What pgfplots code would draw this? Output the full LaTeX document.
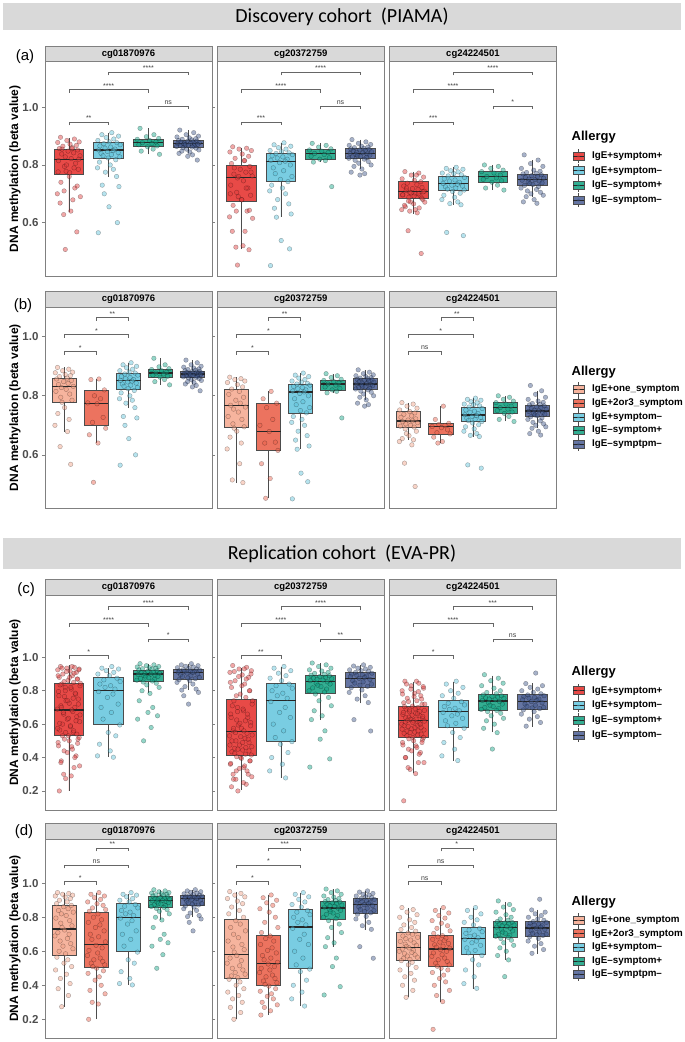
\documentclass[border=0pt]{standalone}
\usepackage{fontspec}
\setmainfont{Liberation Sans}
\newfontfamily\calfont{Carlito}
\usepackage{pgfplots}
\usepackage{pgfplotstable}
\pgfplotsset{compat=1.18}
\usepgfplotslibrary{statistics}

\definecolor{bR}{HTML}{E84A47}
\definecolor{bC}{HTML}{EC735F}
\definecolor{bP}{HTML}{F6B49E}
\definecolor{bB}{HTML}{79CDE2}
\definecolor{bG}{HTML}{33AE92}
\definecolor{bN}{HTML}{6575A3}
\definecolor{pR}{HTML}{E03C3C}
\definecolor{pC}{HTML}{E8604B}
\definecolor{pP}{HTML}{F0A084}
\definecolor{pB}{HTML}{5DC2DA}
\definecolor{pG}{HTML}{10A385}
\definecolor{pN}{HTML}{3C5488}
\definecolor{frame}{HTML}{808080}
\definecolor{stripc}{HTML}{D9D9D9}
\definecolor{tickc}{HTML}{4D4D4D}

% PIAMA, cg01870976 (A), cg20372759 (B), cg24224501 (C); columns: jitter, beta value
\pgfplotstableread[row sep=\\]{j y\\-0.21 0.896\\0.14 0.89\\-0.05 0.885\\0.26 0.88\\-0.28 0.878\\0.03 0.872\\0.19 0.868\\-0.15 0.865\\0.09 0.86\\-0.24 0.857\\0.22 0.852\\-0.02 0.848\\0.12 0.842\\-0.18 0.838\\0.28 0.832\\-0.09 0.828\\0.06 0.822\\-0.26 0.815\\0.17 0.806\\-0.11 0.795\\0.24 0.785\\-0.07 0.778\\0.01 0.76\\-0.20 0.74\\0.15 0.72\\-0.29 0.70\\0.10 0.679\\-0.13 0.628\\0.20 0.568\\}\PoneA
\pgfplotstableread[row sep=\\]{j y\\0.08 0.857\\-0.17 0.855\\0.25 0.82\\-0.06 0.80\\0.13 0.79\\-0.27 0.776\\0.02 0.773\\0.21 0.727\\-0.12 0.71\\0.29 0.69\\-0.22 0.668\\0.05 0.64\\-0.09 0.507\\}\PtwoA
\pgfplotstableread[row sep=\\]{j y\\0.08 0.912\\-0.17 0.905\\0.25 0.90\\-0.06 0.895\\0.13 0.89\\-0.27 0.885\\0.02 0.88\\0.21 0.877\\-0.12 0.874\\0.29 0.87\\-0.22 0.866\\0.05 0.862\\-0.09 0.858\\0.16 0.855\\-0.25 0.852\\0.11 0.85\\-0.03 0.847\\0.24 0.843\\-0.19 0.84\\0.07 0.836\\-0.14 0.832\\0.28 0.828\\-0.01 0.824\\0.18 0.818\\-0.23 0.81\\0.04 0.80\\-0.28 0.79\\0.12 0.785\\-0.08 0.775\\0.20 0.76\\-0.16 0.73\\0.26 0.725\\-0.11 0.70\\0.01 0.655\\0.22 0.60\\-0.26 0.565\\}\PlbA
\pgfplotstableread[row sep=\\]{j y\\-0.21 0.927\\0.14 0.905\\-0.05 0.898\\0.26 0.892\\-0.28 0.889\\0.03 0.885\\0.19 0.88\\-0.15 0.877\\0.09 0.874\\-0.24 0.87\\0.22 0.866\\-0.02 0.863\\0.12 0.855\\-0.18 0.848\\0.28 0.837\\}\PgrA
\pgfplotstableread[row sep=\\]{j y\\-0.21 0.921\\0.14 0.912\\-0.05 0.905\\0.26 0.90\\-0.28 0.897\\0.03 0.894\\0.19 0.891\\-0.15 0.889\\0.09 0.887\\-0.24 0.885\\0.22 0.883\\-0.02 0.882\\0.12 0.88\\-0.18 0.879\\0.28 0.877\\-0.09 0.876\\0.06 0.875\\-0.26 0.874\\0.17 0.873\\-0.11 0.872\\0.24 0.871\\-0.07 0.87\\0.01 0.869\\-0.20 0.867\\0.15 0.866\\-0.29 0.864\\0.10 0.862\\-0.13 0.86\\0.20 0.858\\-0.04 0.855\\0.27 0.852\\-0.16 0.848\\0.04 0.845\\-0.23 0.84\\0.11 0.835\\-0.01 0.83\\0.23 0.817\\}\PnvA
\pgfplotstableread[row sep=\\]{j y\\-0.21 0.863\\0.14 0.858\\-0.05 0.855\\0.26 0.85\\-0.28 0.845\\0.03 0.838\\0.19 0.83\\-0.15 0.823\\0.09 0.815\\-0.24 0.805\\0.22 0.795\\-0.02 0.785\\0.12 0.775\\-0.18 0.768\\0.28 0.762\\-0.09 0.755\\0.06 0.745\\-0.26 0.73\\0.17 0.72\\-0.11 0.705\\0.24 0.695\\-0.07 0.69\\0.01 0.68\\-0.20 0.66\\0.15 0.64\\-0.29 0.62\\0.10 0.57\\-0.13 0.515\\0.20 0.506\\}\PoneB
\pgfplotstableread[row sep=\\]{j y\\0.08 0.815\\-0.17 0.79\\0.25 0.775\\-0.06 0.76\\0.13 0.72\\-0.27 0.70\\0.02 0.679\\0.21 0.643\\-0.12 0.64\\0.29 0.615\\-0.22 0.57\\0.05 0.52\\-0.09 0.453\\}\PtwoB
\pgfplotstableread[row sep=\\]{j y\\0.08 0.877\\-0.17 0.87\\0.25 0.865\\-0.06 0.86\\0.13 0.855\\-0.27 0.85\\0.02 0.846\\0.21 0.842\\-0.12 0.84\\0.29 0.836\\-0.22 0.832\\0.05 0.828\\-0.09 0.824\\0.16 0.82\\-0.25 0.816\\0.11 0.813\\-0.03 0.808\\0.24 0.80\\-0.19 0.79\\0.07 0.78\\-0.14 0.77\\0.28 0.76\\-0.01 0.75\\0.18 0.742\\-0.23 0.73\\0.04 0.72\\-0.28 0.71\\0.12 0.70\\-0.08 0.68\\0.20 0.665\\-0.16 0.65\\0.26 0.63\\-0.11 0.619\\0.01 0.538\\0.22 0.509\\-0.26 0.451\\}\PlbB
\pgfplotstableread[row sep=\\]{j y\\-0.21 0.875\\0.14 0.868\\-0.05 0.862\\0.26 0.856\\-0.28 0.852\\0.03 0.848\\0.19 0.843\\-0.15 0.84\\0.09 0.836\\-0.24 0.83\\0.22 0.825\\-0.02 0.82\\0.12 0.815\\-0.18 0.81\\0.28 0.725\\}\PgrB
\pgfplotstableread[row sep=\\]{j y\\-0.21 0.888\\0.14 0.88\\-0.05 0.875\\0.26 0.871\\-0.28 0.868\\0.03 0.865\\0.19 0.862\\-0.15 0.86\\0.09 0.858\\-0.24 0.856\\0.22 0.854\\-0.02 0.852\\0.12 0.85\\-0.18 0.848\\0.28 0.846\\-0.09 0.844\\0.06 0.842\\-0.26 0.84\\0.17 0.838\\-0.11 0.836\\0.24 0.834\\-0.07 0.832\\0.01 0.83\\-0.20 0.828\\0.15 0.826\\-0.29 0.823\\0.10 0.82\\-0.13 0.816\\0.20 0.812\\-0.04 0.806\\0.27 0.80\\-0.16 0.795\\0.04 0.786\\-0.23 0.775\\0.11 0.77\\-0.01 0.765\\}\PnvB
\pgfplotstableread[row sep=\\]{j y\\-0.21 0.777\\0.14 0.772\\-0.05 0.765\\0.26 0.758\\-0.28 0.752\\0.03 0.747\\0.19 0.742\\-0.15 0.737\\0.09 0.732\\-0.24 0.727\\0.22 0.722\\-0.02 0.718\\0.12 0.715\\-0.18 0.712\\0.28 0.709\\-0.09 0.705\\0.06 0.70\\-0.26 0.697\\0.17 0.694\\-0.11 0.688\\0.24 0.68\\-0.07 0.672\\0.01 0.665\\-0.20 0.655\\0.15 0.651\\-0.29 0.645\\0.10 0.634\\-0.13 0.572\\0.20 0.493\\}\PoneC
\pgfplotstableread[row sep=\\]{j y\\0.08 0.765\\-0.17 0.72\\0.25 0.707\\-0.06 0.703\\0.13 0.70\\-0.27 0.696\\0.02 0.692\\0.21 0.685\\-0.12 0.675\\0.29 0.671\\-0.22 0.66\\0.05 0.645\\-0.09 0.64\\}\PtwoC
\pgfplotstableread[row sep=\\]{j y\\0.08 0.792\\-0.17 0.788\\0.25 0.785\\-0.06 0.78\\0.13 0.776\\-0.27 0.772\\0.02 0.77\\0.21 0.766\\-0.12 0.762\\0.29 0.757\\-0.22 0.752\\0.05 0.748\\-0.09 0.744\\0.16 0.74\\-0.25 0.736\\0.11 0.733\\-0.03 0.73\\0.24 0.727\\-0.19 0.724\\0.07 0.72\\-0.14 0.716\\0.28 0.713\\-0.01 0.708\\0.18 0.702\\-0.23 0.695\\0.04 0.688\\-0.28 0.68\\0.12 0.672\\-0.08 0.666\\0.20 0.662\\-0.16 0.566\\0.26 0.555\\}\PlbC
\pgfplotstableread[row sep=\\]{j y\\-0.21 0.80\\0.14 0.795\\-0.05 0.788\\0.26 0.782\\-0.28 0.777\\0.03 0.772\\0.19 0.765\\-0.15 0.76\\0.09 0.755\\-0.24 0.75\\0.22 0.745\\-0.02 0.74\\0.12 0.73\\-0.18 0.72\\0.28 0.713\\}\PgrC
\pgfplotstableread[row sep=\\]{j y\\-0.21 0.835\\0.14 0.817\\-0.05 0.805\\0.26 0.795\\-0.28 0.788\\0.03 0.782\\0.19 0.778\\-0.15 0.774\\0.09 0.771\\-0.24 0.769\\0.22 0.766\\-0.02 0.763\\0.12 0.76\\-0.18 0.757\\0.28 0.754\\-0.09 0.751\\0.06 0.749\\-0.26 0.747\\0.17 0.744\\-0.11 0.741\\0.24 0.738\\-0.07 0.735\\0.01 0.732\\-0.20 0.729\\0.15 0.725\\-0.29 0.72\\0.10 0.715\\-0.13 0.71\\0.20 0.705\\-0.04 0.70\\0.27 0.695\\-0.16 0.69\\0.04 0.68\\-0.23 0.672\\0.11 0.667\\}\PnvC

% EVA-PR
\pgfplotstableread[row sep=\\]{j y\\-0.21 0.945\\0.14 0.94\\-0.05 0.935\\0.26 0.93\\-0.28 0.925\\0.03 0.918\\0.19 0.91\\-0.15 0.90\\0.09 0.89\\-0.24 0.88\\0.22 0.87\\-0.02 0.862\\0.12 0.85\\-0.18 0.84\\0.28 0.83\\-0.09 0.82\\0.06 0.81\\-0.26 0.795\\0.17 0.78\\-0.11 0.765\\0.24 0.75\\-0.07 0.74\\0.01 0.725\\-0.20 0.71\\0.15 0.70\\-0.29 0.69\\0.10 0.675\\-0.13 0.66\\0.20 0.645\\-0.04 0.63\\0.27 0.615\\-0.16 0.60\\0.04 0.585\\-0.23 0.565\\0.11 0.55\\-0.01 0.53\\0.23 0.51\\-0.27 0.49\\0.07 0.465\\-0.12 0.44\\0.18 0.41\\-0.19 0.38\\0.13 0.34\\-0.08 0.274\\}\EoneA
\pgfplotstableread[row sep=\\]{j y\\0.08 0.945\\-0.17 0.935\\0.25 0.925\\-0.06 0.915\\0.13 0.905\\-0.27 0.89\\0.02 0.88\\0.21 0.87\\-0.12 0.855\\0.29 0.845\\-0.22 0.835\\0.05 0.82\\-0.09 0.80\\0.16 0.785\\-0.25 0.77\\0.11 0.755\\-0.03 0.74\\0.24 0.72\\-0.19 0.70\\0.07 0.685\\-0.14 0.67\\0.28 0.655\\-0.01 0.635\\0.18 0.62\\-0.23 0.605\\0.04 0.59\\-0.28 0.575\\0.12 0.56\\-0.08 0.55\\0.20 0.54\\-0.16 0.53\\0.26 0.52\\-0.11 0.51\\0.01 0.50\\0.22 0.485\\-0.26 0.47\\0.09 0.45\\-0.04 0.43\\0.15 0.40\\-0.20 0.37\\0.27 0.35\\-0.13 0.30\\0.06 0.29\\-0.24 0.20\\}\EtwoA
\pgfplotstableread[row sep=\\]{j y\\0.08 0.945\\-0.17 0.935\\0.25 0.93\\-0.06 0.92\\0.13 0.91\\-0.27 0.90\\0.02 0.89\\0.21 0.875\\-0.12 0.865\\0.29 0.855\\-0.22 0.84\\0.05 0.83\\-0.09 0.82\\0.16 0.81\\-0.25 0.795\\0.11 0.78\\-0.03 0.76\\0.24 0.72\\-0.19 0.70\\0.07 0.67\\-0.14 0.63\\0.28 0.595\\-0.01 0.55\\0.18 0.53\\-0.23 0.48\\0.04 0.44\\-0.28 0.41\\0.12 0.402\\}\ElbA
\pgfplotstableread[row sep=\\]{j y\\-0.21 0.962\\0.14 0.955\\-0.05 0.95\\0.26 0.945\\-0.28 0.942\\0.03 0.938\\0.19 0.935\\-0.15 0.932\\0.09 0.93\\-0.24 0.925\\0.22 0.92\\-0.02 0.916\\0.12 0.912\\-0.18 0.908\\0.28 0.905\\-0.09 0.902\\0.06 0.899\\-0.26 0.897\\0.17 0.894\\-0.11 0.89\\0.24 0.886\\-0.07 0.882\\0.01 0.878\\-0.20 0.873\\0.15 0.868\\-0.29 0.863\\0.10 0.858\\-0.13 0.852\\0.20 0.845\\-0.04 0.835\\0.27 0.82\\-0.16 0.80\\0.04 0.784\\-0.23 0.74\\0.11 0.70\\-0.01 0.67\\0.23 0.65\\-0.27 0.63\\0.07 0.58\\-0.12 0.50\\}\EgrA
\pgfplotstableread[row sep=\\]{j y\\0.08 0.962\\-0.17 0.955\\0.25 0.95\\-0.06 0.946\\0.13 0.942\\-0.27 0.938\\0.02 0.934\\0.21 0.93\\-0.12 0.926\\0.29 0.924\\-0.22 0.92\\0.05 0.918\\-0.09 0.915\\0.16 0.913\\-0.25 0.911\\0.11 0.909\\-0.03 0.905\\0.24 0.90\\-0.19 0.895\\0.07 0.89\\-0.14 0.885\\0.28 0.88\\-0.01 0.876\\0.18 0.872\\-0.23 0.866\\0.04 0.86\\-0.28 0.85\\0.12 0.84\\-0.08 0.825\\0.20 0.81\\-0.16 0.804\\0.26 0.79\\-0.11 0.77\\0.01 0.72\\}\EnvA
\pgfplotstableread[row sep=\\]{j y\\-0.21 0.951\\0.14 0.94\\-0.05 0.93\\0.26 0.92\\-0.28 0.91\\0.03 0.895\\0.19 0.88\\-0.15 0.86\\0.09 0.84\\-0.24 0.82\\0.22 0.80\\-0.02 0.78\\0.12 0.76\\-0.18 0.74\\0.28 0.72\\-0.09 0.70\\0.06 0.68\\-0.26 0.66\\0.17 0.64\\-0.11 0.625\\0.24 0.61\\-0.07 0.595\\0.01 0.575\\-0.20 0.56\\0.15 0.545\\-0.29 0.53\\0.10 0.515\\-0.13 0.50\\0.20 0.49\\-0.04 0.475\\0.27 0.465\\-0.16 0.455\\0.04 0.445\\-0.23 0.435\\0.11 0.42\\-0.01 0.40\\0.23 0.38\\-0.27 0.36\\0.07 0.34\\-0.12 0.32\\0.18 0.30\\-0.19 0.27\\0.13 0.24\\-0.08 0.20\\}\EoneB
\pgfplotstableread[row sep=\\]{j y\\0.08 0.931\\-0.17 0.915\\0.25 0.90\\-0.06 0.885\\0.13 0.87\\-0.27 0.85\\0.02 0.83\\0.21 0.80\\-0.12 0.77\\0.29 0.74\\-0.22 0.71\\0.05 0.69\\-0.09 0.675\\0.16 0.66\\-0.25 0.64\\0.11 0.62\\-0.03 0.605\\0.24 0.59\\-0.19 0.575\\0.07 0.56\\-0.14 0.55\\0.28 0.535\\-0.01 0.525\\0.18 0.51\\-0.23 0.50\\0.04 0.49\\-0.28 0.475\\0.12 0.46\\-0.08 0.45\\0.20 0.44\\-0.16 0.425\\0.26 0.415\\-0.11 0.405\\0.01 0.395\\0.22 0.38\\-0.26 0.365\\0.09 0.35\\-0.04 0.335\\0.15 0.32\\-0.20 0.30\\0.27 0.285\\-0.13 0.27\\0.06 0.25\\-0.24 0.225\\}\EtwoB
\pgfplotstableread[row sep=\\]{j y\\0.08 0.945\\-0.17 0.935\\0.25 0.92\\-0.06 0.905\\0.13 0.89\\-0.27 0.875\\0.02 0.86\\0.21 0.84\\-0.12 0.83\\0.29 0.815\\-0.22 0.80\\0.05 0.785\\-0.09 0.77\\0.16 0.755\\-0.25 0.735\\0.11 0.70\\-0.03 0.67\\0.24 0.64\\-0.19 0.60\\0.07 0.56\\-0.14 0.52\\0.28 0.495\\-0.01 0.48\\0.18 0.43\\-0.23 0.40\\0.04 0.36\\-0.28 0.32\\0.12 0.278\\}\ElbB
\pgfplotstableread[row sep=\\]{j y\\-0.21 0.966\\0.14 0.955\\-0.05 0.945\\0.26 0.935\\-0.28 0.925\\0.03 0.918\\0.19 0.91\\-0.15 0.904\\0.09 0.898\\-0.24 0.893\\0.22 0.89\\-0.02 0.885\\0.12 0.88\\-0.18 0.876\\0.28 0.872\\-0.09 0.868\\0.06 0.864\\-0.26 0.86\\0.17 0.853\\-0.11 0.845\\0.24 0.84\\-0.07 0.833\\0.01 0.825\\-0.20 0.817\\0.15 0.81\\-0.29 0.80\\0.10 0.792\\-0.13 0.78\\0.20 0.76\\-0.04 0.74\\0.27 0.71\\-0.16 0.68\\0.04 0.65\\-0.23 0.627\\0.11 0.56\\-0.01 0.51\\0.23 0.392\\-0.27 0.343\\}\EgrB
\pgfplotstableread[row sep=\\]{j y\\0.08 0.955\\-0.17 0.948\\0.25 0.94\\-0.06 0.935\\0.13 0.93\\-0.27 0.925\\0.02 0.92\\0.21 0.915\\-0.12 0.91\\0.29 0.905\\-0.22 0.90\\0.05 0.896\\-0.09 0.892\\0.16 0.888\\-0.25 0.884\\0.11 0.88\\-0.03 0.874\\0.24 0.868\\-0.19 0.86\\0.07 0.853\\-0.14 0.846\\0.28 0.84\\-0.01 0.833\\0.18 0.826\\-0.23 0.818\\0.04 0.805\\-0.28 0.79\\0.12 0.77\\-0.08 0.75\\0.20 0.729\\-0.16 0.627\\0.26 0.559\\}\EnvB
\pgfplotstableread[row sep=\\]{j y\\-0.21 0.857\\0.14 0.845\\-0.05 0.83\\0.26 0.815\\-0.28 0.80\\0.03 0.785\\0.19 0.77\\-0.15 0.755\\0.09 0.74\\-0.24 0.728\\0.22 0.718\\-0.02 0.708\\0.12 0.70\\-0.18 0.69\\0.28 0.682\\-0.09 0.674\\0.06 0.666\\-0.26 0.658\\0.17 0.65\\-0.11 0.642\\0.24 0.635\\-0.07 0.628\\0.01 0.62\\-0.20 0.613\\0.15 0.606\\-0.29 0.60\\0.10 0.593\\-0.13 0.586\\0.20 0.579\\-0.04 0.572\\0.27 0.565\\-0.16 0.558\\0.04 0.552\\-0.23 0.545\\0.11 0.535\\-0.01 0.52\\0.23 0.505\\-0.27 0.49\\0.07 0.47\\-0.12 0.45\\0.18 0.43\\-0.19 0.40\\0.13 0.37\\-0.08 0.329\\}\EoneC
\pgfplotstableread[row sep=\\]{j y\\0.08 0.857\\-0.17 0.84\\0.25 0.825\\-0.06 0.81\\0.13 0.795\\-0.27 0.78\\0.02 0.765\\0.21 0.75\\-0.12 0.735\\0.29 0.72\\-0.22 0.705\\0.05 0.692\\-0.09 0.685\\0.16 0.677\\-0.25 0.67\\0.11 0.662\\-0.03 0.654\\0.24 0.646\\-0.19 0.638\\0.07 0.63\\-0.14 0.624\\0.28 0.618\\-0.01 0.61\\0.18 0.60\\-0.23 0.59\\0.04 0.58\\-0.28 0.57\\0.12 0.56\\-0.08 0.55\\0.20 0.54\\-0.16 0.53\\0.26 0.52\\-0.11 0.512\\0.01 0.50\\0.22 0.49\\-0.26 0.475\\0.09 0.46\\-0.04 0.44\\0.15 0.42\\-0.20 0.40\\0.27 0.37\\-0.13 0.34\\0.06 0.304\\-0.24 0.141\\}\EtwoC
\pgfplotstableread[row sep=\\]{j y\\0.08 0.857\\-0.17 0.84\\0.25 0.82\\-0.06 0.80\\0.13 0.785\\-0.27 0.77\\0.02 0.755\\0.21 0.735\\-0.12 0.725\\0.29 0.715\\-0.22 0.705\\0.05 0.695\\-0.09 0.688\\0.16 0.68\\-0.25 0.67\\0.11 0.66\\-0.03 0.65\\0.24 0.635\\-0.19 0.62\\0.07 0.605\\-0.14 0.59\\0.28 0.575\\-0.01 0.55\\0.18 0.52\\-0.23 0.49\\0.04 0.45\\-0.28 0.41\\0.12 0.382\\}\ElbC
\pgfplotstableread[row sep=\\]{j y\\-0.21 0.896\\0.14 0.875\\-0.05 0.86\\0.26 0.845\\-0.28 0.83\\0.03 0.815\\0.19 0.80\\-0.15 0.79\\0.09 0.782\\-0.24 0.775\\0.22 0.77\\-0.02 0.766\\0.12 0.762\\-0.18 0.758\\0.28 0.754\\-0.09 0.75\\0.06 0.746\\-0.26 0.742\\0.17 0.735\\-0.11 0.728\\0.24 0.72\\-0.07 0.713\\0.01 0.706\\-0.20 0.70\\0.15 0.694\\-0.29 0.688\\0.10 0.682\\-0.13 0.675\\0.20 0.665\\-0.04 0.65\\0.27 0.635\\-0.16 0.62\\0.04 0.60\\-0.23 0.575\\0.11 0.549\\-0.01 0.451\\}\EgrC
\pgfplotstableread[row sep=\\]{j y\\0.08 0.906\\-0.17 0.843\\0.25 0.83\\-0.06 0.82\\0.13 0.81\\-0.27 0.80\\0.02 0.79\\0.21 0.782\\-0.12 0.775\\0.29 0.77\\-0.22 0.765\\0.05 0.76\\-0.09 0.755\\0.16 0.75\\-0.25 0.746\\0.11 0.742\\-0.03 0.735\\0.24 0.728\\-0.19 0.72\\0.07 0.713\\-0.14 0.706\\0.28 0.70\\-0.01 0.697\\0.18 0.693\\-0.23 0.685\\0.04 0.675\\-0.28 0.66\\0.12 0.645\\-0.08 0.63\\0.20 0.61\\-0.16 0.588\\}\EnvC

\pgfplotsset{
  panel/.style={scale only axis, width=167pt, xmin=0.4, xtick=\empty, clip=false,
    axis line style={draw=frame, line width=0.9pt},
    tick align=outside, major tick length=3pt,
    ytick style={draw=frame, line width=0.7pt},
    yticklabel style={font=\fontsize{11.5}{11.5}\selectfont\bfseries, text=tickc},
    boxplot/draw direction=y,
    boxplot/every median/.style={line width=1.3pt, draw=black!85}},
  rowA/.style={panel, height=214.3pt, ymin=0.415, ymax=1.158, xmax=4.6},
  rowB/.style={panel, height=200.7pt, ymin=0.42, ymax=1.0997, xmax=5.6},
  rowC/.style={panel, height=215pt, ymin=0.086, ymax=1.373, xmax=4.6},
  rowD/.style={panel, height=199pt, ymin=0.09, ymax=1.26, xmax=5.6},
  firstAB/.style={ytick={0.6,0.8,1.0}, yticklabels={0.6,0.8,1.0}},
  firstCD/.style={ytick={0.2,0.4,0.6,0.8,1.0}, yticklabels={0.2,0.4,0.6,0.8,1.0}},
  inner/.style={ytick=\empty},
}

\newcommand\bx[7]{\addplot[boxplot prepared={draw direction=y, draw position=#1, lower whisker=#3, lower quartile=#4, median=#5, upper quartile=#6, upper whisker=#7, box extend=0.75, whisker extend=0}, draw=black!70, line width=0.6pt, fill=#2] coordinates {};}
\newcommand\pts[3]{\addplot[only marks, mark=*, mark size=2.3pt, mark options={fill=#2, fill opacity=0.45, draw=black, draw opacity=0.35, line width=0.35pt}] table[x expr=\thisrow{j}+#1, y=y]{#3};}
\newcommand\brk[5]{\draw[black!60, line width=0.5pt] ([yshift=-3.5pt]axis cs:#1,#3) -- (axis cs:#1,#3) -- (axis cs:#2,#3) -- ([yshift=-3.5pt]axis cs:#2,#3);
  \node[anchor=south, inner sep=0.8pt, font=\fontsize{7}{7}\selectfont, text=black!75] at (axis cs:#4,#3) {#5};}
\newcommand\strip[2]{\draw[fill=stripc, draw=frame, line width=0.9pt] (#1.north west) rectangle ([yshift=15.5pt]#1.north east);
  \node[font=\fontsize{9.5}{9.5}\selectfont\bfseries] at ([yshift=7.75pt]#1.north) {#2};}
\newcommand\lkey[4]{\begin{scope}[shift={(0pt,-#1pt)}]
  \draw[black!70, line width=0.5pt] (578.5pt,4pt) -- (578.5pt,7pt) (578.5pt,-4pt) -- (578.5pt,-7pt);
  \draw[fill=#2, draw=black!70, line width=0.5pt] (573pt,-4pt) rectangle (584pt,4pt);
  \draw[black!85, line width=1pt] (573pt,0pt) -- (584pt,0pt);
  \fill[#3, fill opacity=0.5] (578.5pt,0pt) circle (1.6pt);
  \node[anchor=west, inner sep=0pt, font=\fontsize{9.8}{9.8}\selectfont\bfseries] at (592pt,0pt) {#4};
  \end{scope}}
\newcommand\ltitle[1]{\node[anchor=west, inner sep=0pt, font=\fontsize{13}{13}\selectfont\bfseries] at (571.5pt,-#1pt) {Allergy};}
\newcommand\ylab[1]{\node[rotate=90, font=\fontsize{12}{12}\selectfont\bfseries] at (15pt,-#1pt) {DNA methylation (beta value)};}

\begin{document}
\begin{tikzpicture}
\path (0,0) rectangle (685pt,-1042pt);
\fill[stripc] (3pt,-3pt) rectangle (681pt,-30pt);
\node[font=\calfont\fontsize{20}{20}\selectfont] at (342pt,-16.5pt) {Discovery cohort\ \ (PIAMA)};
\fill[stripc] (3pt,-538pt) rectangle (681pt,-569pt);
\node[font=\calfont\fontsize{20}{20}\selectfont] at (342pt,-553.5pt) {Replication cohort\ \ (EVA-PR)};

% ---------- (a)
\begin{axis}[rowA, firstAB, name=A1, at={(45pt,-61.7pt)}, anchor=north west]
\bx{1}{bR}{0.638}{0.768}{0.82}{0.855}{0.893}
\bx{2}{bB}{0.757}{0.822}{0.852}{0.877}{0.912}
\bx{3}{bG}{0.837}{0.863}{0.877}{0.889}{0.927}
\bx{4}{bN}{0.84}{0.861}{0.874}{0.884}{0.921}
\pts{1}{pR}{\PoneA}\pts{1}{pR}{\PtwoA}\pts{2}{pB}{\PlbA}\pts{3}{pG}{\PgrA}\pts{4}{pN}{\PnvA}
\brk{2}{4}{1.123}{3}{****}\brk{1}{3}{1.063}{2}{****}\brk{3}{4}{1.0045}{3.5}{ns}\brk{1}{2}{0.949}{1.5}{**}
\end{axis}
\begin{axis}[rowA, inner, name=A2, at={(217.2pt,-61.7pt)}, anchor=north west]
\bx{1}{bR}{0.508}{0.675}{0.757}{0.798}{0.86}
\bx{2}{bB}{0.619}{0.742}{0.813}{0.84}{0.877}
\bx{3}{bG}{0.81}{0.82}{0.84}{0.854}{0.875}
\bx{4}{bN}{0.786}{0.823}{0.84}{0.858}{0.888}
\pts{1}{pR}{\PoneB}\pts{1}{pR}{\PtwoB}\pts{2}{pB}{\PlbB}\pts{3}{pG}{\PgrB}\pts{4}{pN}{\PnvB}
\brk{2}{4}{1.123}{3}{****}\brk{1}{3}{1.063}{2}{****}\brk{3}{4}{1.0045}{3.5}{ns}\brk{1}{2}{0.949}{1.5}{***}
\end{axis}
\begin{axis}[rowA, inner, name=A3, at={(389.4pt,-61.7pt)}, anchor=north west]
\bx{1}{bR}{0.63}{0.685}{0.708}{0.745}{0.777}
\bx{2}{bB}{0.662}{0.712}{0.735}{0.76}{0.793}
\bx{3}{bG}{0.713}{0.74}{0.76}{0.777}{0.80}
\bx{4}{bN}{0.69}{0.731}{0.749}{0.769}{0.817}
\pts{1}{pR}{\PoneC}\pts{1}{pR}{\PtwoC}\pts{2}{pB}{\PlbC}\pts{3}{pG}{\PgrC}\pts{4}{pN}{\PnvC}
\brk{2}{4}{1.123}{3}{****}\brk{1}{3}{1.063}{2}{****}\brk{3}{4}{1.0045}{3.5}{*}\brk{1}{2}{0.949}{1.5}{***}
\end{axis}

% ---------- (b)
\begin{axis}[rowB, firstAB, name=B1, at={(45pt,-307.3pt)}, anchor=north west]
\bx{1}{bP}{0.679}{0.779}{0.832}{0.86}{0.896}
\bx{2}{bC}{0.64}{0.699}{0.773}{0.82}{0.857}
\bx{3}{bB}{0.757}{0.822}{0.852}{0.877}{0.912}
\bx{4}{bG}{0.837}{0.863}{0.877}{0.889}{0.927}
\bx{5}{bN}{0.84}{0.861}{0.874}{0.884}{0.921}
\pts{1}{pP}{\PoneA}\pts{2}{pC}{\PtwoA}\pts{3}{pB}{\PlbA}\pts{4}{pG}{\PgrA}\pts{5}{pN}{\PnvA}
\brk{2}{3}{1.0668}{2.5}{**}\brk{1}{3}{1.009}{2}{*}\brk{1}{2}{0.9515}{1.5}{*}
\end{axis}
\begin{axis}[rowB, inner, name=B2, at={(217.2pt,-307.3pt)}, anchor=north west]
\bx{1}{bP}{0.506}{0.693}{0.768}{0.823}{0.863}
\bx{2}{bC}{0.453}{0.615}{0.679}{0.775}{0.815}
\bx{3}{bB}{0.619}{0.742}{0.813}{0.84}{0.877}
\bx{4}{bG}{0.81}{0.82}{0.84}{0.854}{0.875}
\bx{5}{bN}{0.786}{0.823}{0.84}{0.858}{0.888}
\pts{1}{pP}{\PoneB}\pts{2}{pC}{\PtwoB}\pts{3}{pB}{\PlbB}\pts{4}{pG}{\PgrB}\pts{5}{pN}{\PnvB}
\brk{2}{3}{1.0668}{2.5}{**}\brk{1}{3}{1.009}{2}{*}\brk{1}{2}{0.9515}{1.5}{*}
\end{axis}
\begin{axis}[rowB, inner, name=B3, at={(389.4pt,-307.3pt)}, anchor=north west]
\bx{1}{bP}{0.651}{0.694}{0.715}{0.747}{0.777}
\bx{2}{bC}{0.64}{0.671}{0.696}{0.707}{0.765}
\bx{3}{bB}{0.662}{0.712}{0.735}{0.76}{0.793}
\bx{4}{bG}{0.713}{0.74}{0.76}{0.777}{0.80}
\bx{5}{bN}{0.69}{0.731}{0.749}{0.769}{0.817}
\pts{1}{pP}{\PoneC}\pts{2}{pC}{\PtwoC}\pts{3}{pB}{\PlbC}\pts{4}{pG}{\PgrC}\pts{5}{pN}{\PnvC}
\brk{2}{3}{1.0668}{2.5}{**}\brk{1}{3}{1.009}{2}{*}\brk{1}{2}{0.9515}{1.5}{ns}
\end{axis}

% ---------- (c)
\begin{axis}[rowC, firstCD, name=C1, at={(45pt,-595pt)}, anchor=north west]
\bx{1}{bR}{0.20}{0.535}{0.684}{0.844}{0.954}
\bx{2}{bB}{0.402}{0.598}{0.80}{0.88}{0.934}
\bx{3}{bG}{0.784}{0.858}{0.90}{0.924}{0.962}
\bx{4}{bN}{0.804}{0.87}{0.91}{0.928}{0.962}
\pts{1}{pR}{\EoneA}\pts{1}{pR}{\EtwoA}\pts{2}{pB}{\ElbA}\pts{3}{pG}{\EgrA}\pts{4}{pN}{\EnvA}
\brk{2}{4}{1.303}{3}{****}\brk{1}{3}{1.205}{2}{****}\brk{3}{4}{1.11}{3.5}{*}\brk{1}{2}{1.0096}{1.5}{*}
\end{axis}
\begin{axis}[rowC, inner, name=C2, at={(217.2pt,-595pt)}, anchor=north west]
\bx{1}{bR}{0.205}{0.411}{0.555}{0.75}{0.934}
\bx{2}{bB}{0.278}{0.50}{0.743}{0.845}{0.94}
\bx{3}{bG}{0.627}{0.787}{0.855}{0.892}{0.966}
\bx{4}{bN}{0.724}{0.822}{0.874}{0.91}{0.957}
\pts{1}{pR}{\EoneB}\pts{1}{pR}{\EtwoB}\pts{2}{pB}{\ElbB}\pts{3}{pG}{\EgrB}\pts{4}{pN}{\EnvB}
\brk{2}{4}{1.303}{3}{****}\brk{1}{3}{1.205}{2}{****}\brk{3}{4}{1.11}{3.5}{**}\brk{1}{2}{1.0096}{1.5}{**}
\end{axis}
\begin{axis}[rowC, inner, name=C3, at={(389.4pt,-595pt)}, anchor=north west]
\bx{1}{bR}{0.305}{0.521}{0.62}{0.708}{0.854}
\bx{2}{bB}{0.38}{0.584}{0.675}{0.742}{0.852}
\bx{3}{bG}{0.551}{0.68}{0.738}{0.777}{0.89}
\bx{4}{bN}{0.585}{0.69}{0.737}{0.778}{0.845}
\pts{1}{pR}{\EoneC}\pts{1}{pR}{\EtwoC}\pts{2}{pB}{\ElbC}\pts{3}{pG}{\EgrC}\pts{4}{pN}{\EnvC}
\brk{2}{4}{1.303}{3}{***}\brk{1}{3}{1.205}{2}{****}\brk{3}{4}{1.11}{3.5}{ns}\brk{1}{2}{1.0096}{1.5}{*}
\end{axis}

% ---------- (d)
\begin{axis}[rowD, firstCD, name=D1, at={(45pt,-839pt)}, anchor=north west]
\bx{1}{bP}{0.274}{0.574}{0.731}{0.868}{0.945}
\bx{2}{bC}{0.20}{0.506}{0.641}{0.829}{0.945}
\bx{3}{bB}{0.402}{0.598}{0.80}{0.88}{0.934}
\bx{4}{bG}{0.784}{0.858}{0.90}{0.924}{0.962}
\bx{5}{bN}{0.804}{0.87}{0.91}{0.928}{0.962}
\pts{1}{pP}{\EoneA}\pts{2}{pC}{\EtwoA}\pts{3}{pB}{\ElbA}\pts{4}{pG}{\EgrA}\pts{5}{pN}{\EnvA}
\brk{2}{3}{1.208}{2.5}{**}\brk{1}{3}{1.108}{2}{ns}\brk{1}{2}{1.009}{1.5}{*}
\end{axis}
\begin{axis}[rowD, inner, name=D2, at={(217.2pt,-839pt)}, anchor=north west]
\bx{1}{bP}{0.20}{0.441}{0.582}{0.788}{0.951}
\bx{2}{bC}{0.225}{0.402}{0.529}{0.696}{0.931}
\bx{3}{bB}{0.278}{0.50}{0.743}{0.845}{0.94}
\bx{4}{bG}{0.627}{0.787}{0.855}{0.892}{0.966}
\bx{5}{bN}{0.724}{0.822}{0.874}{0.91}{0.957}
\pts{1}{pP}{\EoneB}\pts{2}{pC}{\EtwoB}\pts{3}{pB}{\ElbB}\pts{4}{pG}{\EgrB}\pts{5}{pN}{\EnvB}
\brk{2}{3}{1.208}{2.5}{***}\brk{1}{3}{1.108}{2}{*}\brk{1}{2}{1.009}{1.5}{*}
\end{axis}
\begin{axis}[rowD, inner, name=D3, at={(389.4pt,-839pt)}, anchor=north west]
\bx{1}{bP}{0.329}{0.549}{0.624}{0.712}{0.857}
\bx{2}{bC}{0.304}{0.509}{0.614}{0.696}{0.857}
\bx{3}{bB}{0.38}{0.584}{0.675}{0.742}{0.852}
\bx{4}{bG}{0.551}{0.68}{0.738}{0.777}{0.89}
\bx{5}{bN}{0.585}{0.69}{0.737}{0.778}{0.845}
\pts{1}{pP}{\EoneC}\pts{2}{pC}{\EtwoC}\pts{3}{pB}{\ElbC}\pts{4}{pG}{\EgrC}\pts{5}{pN}{\EnvC}
\brk{2}{3}{1.208}{2.5}{*}\brk{1}{3}{1.108}{2}{ns}\brk{1}{2}{1.009}{1.5}{ns}
\end{axis}

% strips
\strip{A1}{cg01870976}\strip{A2}{cg20372759}\strip{A3}{cg24224501}
\strip{B1}{cg01870976}\strip{B2}{cg20372759}\strip{B3}{cg24224501}
\strip{C1}{cg01870976}\strip{C2}{cg20372759}\strip{C3}{cg24224501}
\strip{D1}{cg01870976}\strip{D2}{cg20372759}\strip{D3}{cg24224501}

% panel letters and y labels
\node[font=\fontsize{15}{15}\selectfont] at (25pt,-57pt) {(a)};
\node[font=\fontsize{15}{15}\selectfont] at (23pt,-305.7pt) {(b)};
\node[font=\fontsize{15}{15}\selectfont] at (26pt,-590pt) {(c)};
\node[font=\fontsize{15}{15}\selectfont] at (24pt,-832pt) {(d)};
\ylab{168.85}\ylab{407.65}\ylab{702.5}\ylab{938.5}

% legends
\ltitle{136.7}
\lkey{156}{bR}{pR}{IgE+symptom+}\lkey{170.7}{bB}{pB}{IgE+symptom–}\lkey{185.3}{bG}{pG}{IgE–symptom+}\lkey{200}{bN}{pN}{IgE–symptom–}
\ltitle{372}
\lkey{389}{bP}{pP}{IgE+one\_symptom}\lkey{403}{bC}{pC}{IgE+2or3\_symptom}\lkey{417}{bB}{pB}{IgE+symptom–}\lkey{430.5}{bG}{pG}{IgE–symptom+}\lkey{444}{bN}{pN}{IgE–symptpm–}
\ltitle{671.7}
\lkey{690.7}{bR}{pR}{IgE+symptom+}\lkey{705.3}{bB}{pB}{IgE+symptom–}\lkey{720}{bG}{pG}{IgE–symptom+}\lkey{735}{bN}{pN}{IgE–symptom–}
\ltitle{901.7}
\lkey{920}{bP}{pP}{IgE+one\_symptom}\lkey{933.7}{bC}{pC}{IgE+2or3\_symptom}\lkey{947.3}{bB}{pB}{IgE+symptom–}\lkey{961}{bG}{pG}{IgE–symptom+}\lkey{974.3}{bN}{pN}{IgE–symptpm–}

\pgfresetboundingbox
\path[use as bounding box] (0,0) rectangle (685pt,-1042pt);
\end{tikzpicture}
\end{document}
